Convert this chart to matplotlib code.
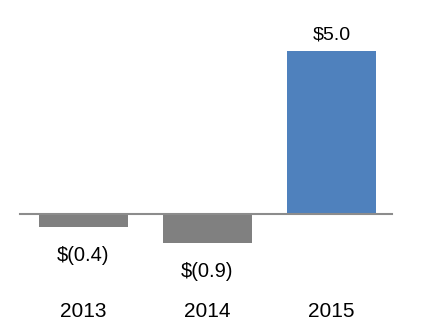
import matplotlib
matplotlib.use("Agg")
import matplotlib.pyplot as plt

plt.rcParams['font.family'] = ['Liberation Sans', 'DejaVu Sans']

years = ["2013", "2014", "2015"]
values = [-0.4, -0.9, 5.0]
labels = ["$(0.4)", "$(0.9)", "$5.0"]
colors = ["#808080", "#808080", "#4F81BD"]

fig = plt.figure(figsize=(4.21, 3.23), dpi=100)
ax = fig.add_axes([0, 0, 1, 1])
ax.set_xlim(-0.673, 2.722)
ax.set_ylim(-3.344, 6.564)
ax.axis("off")

x = range(len(years))
bars = ax.bar(x, values, width=0.72, color=colors, zorder=2)

# zero line across the category area
ax.plot([-0.51, 2.49], [0, 0], color="#8C8C8C", linewidth=1.5, zorder=3)

for b, v, lab in zip(bars, values, labels):
    cx = b.get_x() + b.get_width() / 2
    if v < 0:
        ax.annotate(lab, (cx, v), xytext=(0, -28), textcoords="offset pixels",
                    ha="center", va="center", fontsize=14.5)
    else:
        ax.annotate(lab, (cx, v), xytext=(0, 16), textcoords="offset pixels",
                    ha="center", va="center", fontsize=14)

for i, yr in enumerate(years):
    ax.text(i, -3.0, yr, ha="center", va="center", fontsize=15)

fig.savefig("out.png", dpi=100)
